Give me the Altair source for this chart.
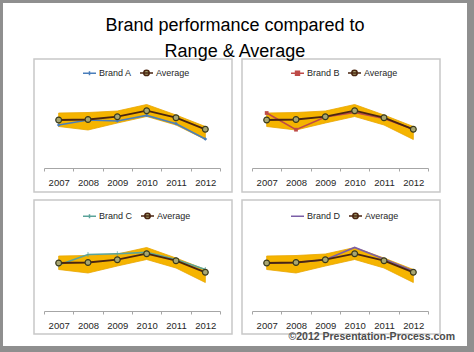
import altair as alt
import pandas as pd

# ---------------- data ----------------
years = ["2007", "2008", "2009", "2010", "2011", "2012"]
average = [48, 48.5, 51.3, 57.3, 50.3, 38.7]
brand_a = [43, 48, 47, 52.6, 44.3, 29]
brand_b = [55, 38.3, 51, 55.6, 49.6, 38.7]
brand_c = [46, 56.5, 57.3, 58.6, 51.6, 41.4]
brand_d = [48, 48.5, 51.3, 63.6, 52, 40]
range_low = [41.5, 38, 45, 51.5, 43, 28.5]
range_high = [55, 55.5, 57, 63.5, 53, 41.5]
brand_names = ["Brand A", "Brand B", "Brand C", "Brand D"]
brand_colors = ["#4a7ebb", "#be4b48", "#5aa39a", "#7b5ea7"]
title_lines = ["Brand performance compared to", "Range & Average"]
copyright = ["\u00a92012 Presentation-Process.com"]

FONT = "Liberation Sans, Arial, sans-serif"
W, H = 176, 80
AVG_LINE = "#4a2511"
AVG_FILL = "#a8a672"
BAND = "#F5B400"

AVG_PATH = "M-1,0L1,0M-0.42,0A0.42,0.42,0,1,1,0.42,0A0.42,0.42,0,1,1,-0.42,0Z"
BRAND_PATHS = [
    "M-1,0L1,0M0,-0.3L0,0.3",
    "M-1,0L1,0M-0.3,-0.3L0.3,-0.3L0.3,0.3L-0.3,0.3Z",
    "M-1,0L1,0M0,-0.3L0,0.3",
    "M-1,0L1,0",
]
BRAND_MARKS = ["diamond", "square", "stroke", None]


def panel(idx, values, row):
    name = brand_names[idx]
    color = brand_colors[idx]
    df = pd.DataFrame({"year": years, "brand": values, "avg": average,
                       "low": range_low, "high": range_high})
    base = alt.Chart(df)
    xenc = alt.X("year:N", bandPosition=0.5, sort=years,
                 scale=alt.Scale(type="band", paddingInner=0, paddingOuter=0),
                 axis=alt.Axis(title=None, tickBand="extent", labelAngle=0, zindex=1,
                               domainColor="#a6a6a6", tickColor="#a6a6a6",
                               tickSize=3, labelFont=FONT, labelFontSize=9.5,
                               labelColor="#262626", labelPadding=6, grid=False))
    ysc = alt.Scale(domain=[0, 80])
    one = pd.DataFrame({"k": [0]})
    layers = []
    if idx == 0:
        layers.append(alt.Chart(one).mark_rect(fill="white", strokeWidth=0).encode(
            x=alt.value(-41), x2=alt.value(423), y=alt.value(-85), y2=alt.value(258)))
    y0, y1 = (-29, 104) if row == 0 else (-31, 103)
    layers.append(alt.Chart(one).mark_rect(fill="white", stroke="#c8c8c8", strokeWidth=1.5).encode(
        x=alt.value(-10), x2=alt.value(188), y=alt.value(y0), y2=alt.value(y1)))
    layers.append(base.mark_area(color=BAND, stroke="#e8a600", strokeWidth=0.8).encode(
        x=xenc, y=alt.Y("low:Q", scale=ysc, axis=None), y2="high:Q"))
    layers.append(base.mark_line(color=color, strokeWidth=1.6).encode(
        x=xenc, y=alt.Y("brand:Q", scale=ysc, axis=None)))
    mk = BRAND_MARKS[idx]
    if mk == "stroke":
        layers.append(base.mark_tick(color=color, orient="vertical", size=5, thickness=1).encode(
            x=xenc, y=alt.Y("brand:Q", scale=ysc, axis=None)))
    elif mk is not None:
        layers.append(base.mark_point(shape=mk, filled=True, color=color, size=14, opacity=1).encode(
            x=xenc, y=alt.Y("brand:Q", scale=ysc, axis=None)))
    layers.append(base.mark_line(color=AVG_LINE, strokeWidth=1.8).encode(
        x=xenc, y=alt.Y("avg:Q", scale=ysc, axis=None)))
    layers.append(base.mark_point(shape="circle", filled=True, fill=AVG_FILL, stroke="#3a3a1c",
                                  strokeWidth=1.2, size=34, opacity=1).encode(
        x=xenc, y=alt.Y("avg:Q", scale=ysc, axis=None)))
    leg = alt.Legend(orient="none", legendX=38, legendY=-23, direction="horizontal", title=None,
                     symbolSize=169, symbolStrokeWidth=1.5, labelFont=FONT, labelFontSize=9,
                     labelColor="#262626", labelOffset=2, columnPadding=5)
    dom = [name, "Average"]
    ldf = pd.DataFrame({"series": dom})
    layers.append(alt.Chart(ldf).mark_point(filled=True, size=0, opacity=1).encode(
        x=alt.value(0), y=alt.value(0),
        shape=alt.Shape("series:N", sort=dom, scale=alt.Scale(domain=dom, range=[BRAND_PATHS[idx], AVG_PATH]), legend=leg),
        fill=alt.Fill("series:N", sort=dom, scale=alt.Scale(domain=dom, range=[color, AVG_FILL]), legend=leg),
        stroke=alt.Stroke("series:N", sort=dom, scale=alt.Scale(domain=dom, range=[color, AVG_LINE]), legend=leg),
    ))
    if idx == 3:
        cdf = pd.DataFrame({"t": copyright})
        layers.append(alt.Chart(cdf).mark_text(align="right", baseline="middle", font="Liberation Sans",
                                               fontWeight="bold", fontSize=10.5, color="#4d4d4d").encode(
            text="t:N", x=alt.value(203), y=alt.value(106)))
    return alt.layer(*layers).properties(width=W, height=H)


panels = [panel(0, brand_a, 0), panel(1, brand_b, 0), panel(2, brand_c, 1), panel(3, brand_d, 1)]

chart = alt.concat(*panels, columns=2, spacing={"row": 63, "column": 32}, bounds="flush").resolve_scale(
    shape="independent", fill="independent", stroke="independent", x="independent", y="independent"
).resolve_legend(shape="independent", fill="independent", stroke="independent").properties(
    title=alt.TitleParams(text=title_lines, anchor="middle", frame="bounds", font=FONT, fontSize=18,
                          fontWeight="normal", color="black", lineHeight=26, offset=-58),
    padding={"left": 3, "top": 3, "right": 7, "bottom": 6},
    background="#8f8f8f",
).configure_view(stroke=None)

chart.save("out.html", embed_options={"renderer": "svg", "actions": False})
